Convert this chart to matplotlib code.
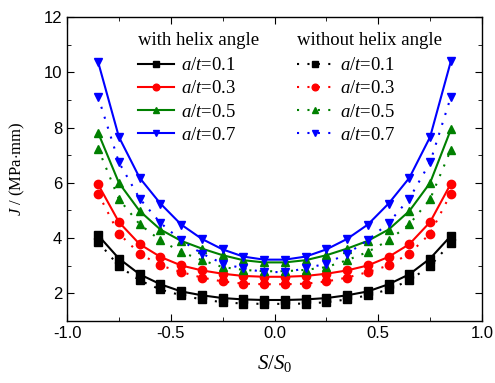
import matplotlib
matplotlib.use("Agg")
import matplotlib.pyplot as plt
from matplotlib.ticker import MultipleLocator

x = [-0.85, -0.75, -0.65, -0.55, -0.45, -0.35, -0.25, -0.15, -0.05,
     0.05, 0.15, 0.25, 0.35, 0.45, 0.55, 0.65, 0.75, 0.85]

with_01 = [4.10, 3.26, 2.69, 2.33, 2.07, 1.93, 1.83, 1.78, 1.76,
           1.76, 1.78, 1.83, 1.93, 2.07, 2.33, 2.69, 3.26, 4.08]
with_03 = [5.94, 4.58, 3.78, 3.32, 3.01, 2.83, 2.71, 2.63, 2.60,
           2.60, 2.63, 2.71, 2.83, 3.01, 3.32, 3.78, 4.58, 5.97]
with_05 = [7.81, 6.00, 4.98, 4.31, 3.90, 3.62, 3.38, 3.20, 3.12,
           3.12, 3.20, 3.38, 3.62, 3.90, 4.31, 4.98, 6.00, 7.93]
with_07 = [10.37, 7.66, 6.18, 5.25, 4.49, 3.97, 3.59, 3.33, 3.22,
           3.22, 3.33, 3.59, 3.97, 4.49, 5.25, 6.18, 7.66, 10.40]

wo_01 = [3.86, 2.99, 2.47, 2.14, 1.93, 1.78, 1.68, 1.63, 1.62,
         1.62, 1.63, 1.68, 1.78, 1.93, 2.14, 2.47, 2.99, 3.82]
wo_03 = [5.61, 4.16, 3.44, 3.01, 2.77, 2.57, 2.43, 2.35, 2.33,
         2.33, 2.35, 2.43, 2.57, 2.77, 3.01, 3.44, 4.16, 5.61]
wo_05 = [7.24, 5.41, 4.50, 3.92, 3.50, 3.20, 2.95, 2.85, 2.80,
         2.80, 2.85, 2.95, 3.20, 3.50, 3.92, 4.50, 5.41, 7.20]
wo_07 = [9.11, 6.74, 5.43, 4.55, 3.92, 3.44, 3.08, 2.90, 2.77,
         2.77, 2.90, 3.08, 3.44, 3.92, 4.55, 5.43, 6.74, 9.11]

labels = ["0.1", "0.3", "0.5", "0.7"]
colors = ["black", "red", "green", "blue"]
markers = ["s", "o", "^", "v"]

plt.rcParams['font.family'] = ['Liberation Sans', 'DejaVu Sans']
plt.rcParams['mathtext.fontset'] = 'custom'
plt.rcParams['mathtext.rm'] = 'Liberation Serif'
plt.rcParams['mathtext.it'] = 'Liberation Serif:italic'

fig = plt.figure(figsize=(4.95, 3.83), dpi=100)
ax = fig.add_axes([0.1354, 0.1619, 0.9737 - 0.1354, 0.9556 - 0.1619])

withs = [with_01, with_03, with_05, with_07]
wos = [wo_01, wo_03, wo_05, wo_07]
h1, h2 = [], []
for w, wo, c, m, lab in zip(withs, wos, colors, markers, labels):
    l1, = ax.plot(x, w, color=c, marker=m, markersize=6, linewidth=1.5,
                  label=r"$a/t$=" + lab)
    l2, = ax.plot(x, wo, color=c, marker=m, markersize=6, linewidth=1.5,
                  linestyle=(0, (1, 4)), label=r"$a/t$=" + lab)
    h1.append(l1)
    h2.append(l2)

ax.set_xlim(-1, 1)
ax.set_ylim(1, 12)
ax.xaxis.set_major_locator(MultipleLocator(0.5))
ax.xaxis.set_minor_locator(MultipleLocator(0.25))
ax.yaxis.set_major_locator(MultipleLocator(2))
ax.yaxis.set_minor_locator(MultipleLocator(1))
ax.tick_params(which='both', direction='in', top=True, right=True, labelsize=12)
ax.tick_params(which='major', length=5)
ax.tick_params(which='minor', length=3)
ax.xaxis.set_major_formatter(matplotlib.ticker.FormatStrFormatter('%.1f'))
for s in ax.spines.values():
    s.set_linewidth(1.0)

ax.set_xlabel(r"$S/S_0$", fontsize=15, labelpad=9)
ax.set_ylabel(r"$J$ / (MPa$\cdot$mm)", fontsize=12, family='Liberation Serif', labelpad=12)

prop = {'family': 'Liberation Serif', 'size': 13.5}
common = dict(loc='upper left', frameon=False, prop=prop, handlelength=1.9,
              handletextpad=0.4, labelspacing=0.33, borderaxespad=0.3,
              markerscale=0.8)
leg1 = ax.legend(handles=h1, title="with helix angle",
                 bbox_to_anchor=(0.14, 0.995), **common)
leg1.get_title().set_fontfamily('Liberation Serif')
leg1.get_title().set_fontsize(13.5)
leg1._legend_box.align = "left"
leg1._legend_box.sep = 6
ax.add_artist(leg1)
leg2 = ax.legend(handles=h2, title="without helix angle",
                 bbox_to_anchor=(0.523, 0.995), **common)
leg2.get_title().set_fontfamily('Liberation Serif')
leg2.get_title().set_fontsize(13.5)
leg2._legend_box.align = "left"
leg2._legend_box.sep = 6

fig.savefig("out.png", dpi=100)
